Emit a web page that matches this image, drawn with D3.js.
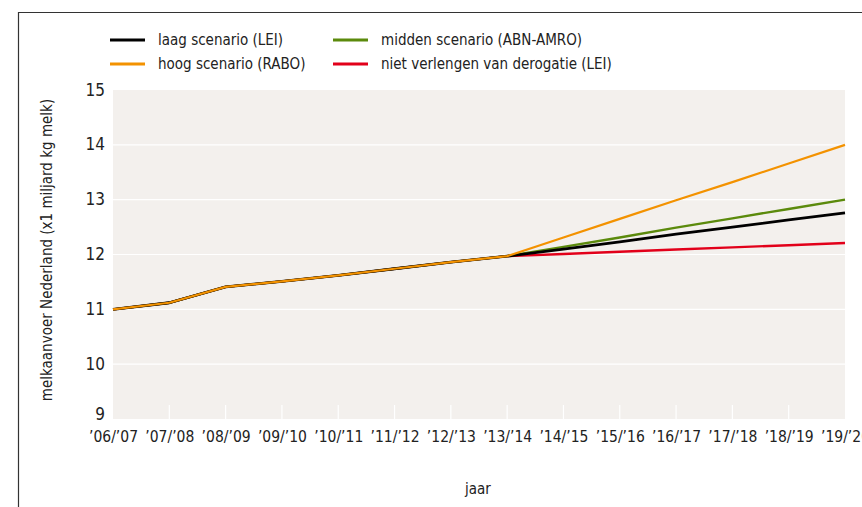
<!DOCTYPE html>
<html>
<head>
<meta charset="utf-8">
<script src="https://cdn.jsdelivr.net/npm/d3@7"></script>
<style>
  body { margin: 0; background: #fff; }
  text { font-family: "Liberation Sans Narrow", "DejaVu Sans Condensed", sans-serif; fill: #222; }
</style>
</head>
<body>
<script>
// seizoenen op de x-as
var seasons = ["’06/’07","’07/’08","’08/’09","’09/’10","’10/’11","’11/’12","’12/’13",
               "’13/’14","’14/’15","’15/’16","’16/’17","’17/’18","’18/’19","’19/’20"];

// gerealiseerd t/m '13/'14, daarna per scenario
var realised  = [11.00, 11.12, 11.41, 11.51, 11.62, 11.74, 11.86, 11.97];
var laag      = [12.10, 12.23, 12.37, 12.50, 12.63, 12.76];
var midden    = [12.14, 12.31, 12.49, 12.66, 12.83, 13.00];
var hoog      = [12.31, 12.65, 12.99, 13.32, 13.66, 14.00];
var derogatie = [12.01, 12.05, 12.09, 12.13, 12.17, 12.21];

var yTicks = [9, 10, 11, 12, 13, 14, 15];

var series = [
  {name: "niet verlengen van derogatie (LEI)", color: "#e2001a", w: 2.4, vals: realised.concat(derogatie)},
  {name: "midden scenario (ABN-AMRO)",         color: "#5b8a0c", w: 2.4, vals: realised.concat(midden)},
  {name: "laag scenario (LEI)",                color: "#000000", w: 2.8, vals: realised.concat(laag)},
  {name: "hoog scenario (RABO)",               color: "#f39200", w: 2.2, vals: realised.concat(hoog)}
];

var W = 862, H = 507;
var plot = {l: 113, r: 845, t: 90, b: 419};

var svg = d3.select("body").append("svg")
    .attr("width", W)
    .attr("height", H);

// kader
svg.append("path")
    .attr("d", "M18.5," + H + " L18.5,12.5 L" + W + ",12.5")
    .attr("fill", "none")
    .attr("stroke", "#333")
    .attr("stroke-width", 1.2);

var x = d3.scalePoint().domain(seasons).range([plot.l, plot.r]);
var y = d3.scaleLinear().domain([9, 15]).range([plot.b, plot.t]);

svg.append("rect")
    .attr("x", plot.l).attr("y", plot.t)
    .attr("width", plot.r - plot.l).attr("height", plot.b - plot.t)
    .attr("fill", "#f3f0ed");

// gridlijnen
svg.append("g").selectAll("line")
  .data(yTicks.filter(function(d) { return d > 9 && d < 15; }))
  .enter().append("line")
    .attr("x1", plot.l).attr("x2", plot.r)
    .attr("y1", function(d) { return y(d); })
    .attr("y2", function(d) { return y(d); })
    .attr("stroke", "#fff")
    .attr("stroke-width", 1.2);

// korte witte streepjes onderaan
svg.append("g").selectAll("line")
  .data(seasons.slice(1, -1))
  .enter().append("line")
    .attr("x1", function(d) { return x(d); })
    .attr("x2", function(d) { return x(d); })
    .attr("y1", plot.b - 14).attr("y2", plot.b)
    .attr("stroke", "#fff")
    .attr("stroke-width", 1.2);

// y-as
var yAxis = svg.append("g")
    .attr("transform", "translate(" + (plot.l - 8) + ",0)")
    .call(d3.axisLeft(y).tickValues(yTicks).tickFormat(d3.format("d")).tickSize(0).tickPadding(0));
yAxis.select(".domain").remove();
yAxis.selectAll("text")
    .attr("dy", function(d) { return d == 9 ? "0.05em" : "0.3em"; })
    .style("font-size", "17px")
    .attr("fill", "#222");

// x-as
var xAxis = svg.append("g")
    .attr("transform", "translate(0," + plot.b + ")")
    .call(d3.axisBottom(x).tickSize(0).tickPadding(0));
xAxis.select(".domain").remove();
xAxis.selectAll("text")
    .attr("y", 23)
    .attr("dy", 0)
    .style("font-size", "15.5px")
    .attr("fill", "#222");

// lijnen
var line = d3.line()
    .x(function(d, i) { return x(seasons[i]); })
    .y(function(d) { return y(d); });

svg.append("g").selectAll("path")
  .data(series)
  .enter().append("path")
    .attr("d", function(d) { return line(d.vals); })
    .attr("fill", "none")
    .attr("stroke", function(d) { return d.color; })
    .attr("stroke-width", function(d) { return d.w; })
    .attr("stroke-linejoin", "round");

// legenda
var legendItems = [
  {name: "laag scenario (LEI)",                color: "#000000", x: 110, y: 40},
  {name: "hoog scenario (RABO)",               color: "#f39200", x: 110, y: 64},
  {name: "midden scenario (ABN-AMRO)",         color: "#5b8a0c", x: 333, y: 40},
  {name: "niet verlengen van derogatie (LEI)", color: "#e2001a", x: 333, y: 64}
];
var legend = svg.append("g").selectAll("g")
  .data(legendItems)
  .enter().append("g")
    .attr("transform", function(d) { return "translate(" + d.x + "," + d.y + ")"; });
legend.append("line")
    .attr("x1", 0).attr("x2", 35)
    .attr("stroke", function(d) { return d.color; })
    .attr("stroke-width", 3);
legend.append("text")
    .attr("x", 48).attr("dy", "0.35em")
    .style("font-size", "15px")
    .text(function(d) { return d.name; });

// astitels
svg.append("text")
    .attr("x", 478).attr("y", 494)
    .attr("text-anchor", "middle")
    .style("font-size", "15px")
    .text("jaar");

svg.append("text")
    .attr("transform", "translate(52,250) rotate(-90)")
    .attr("text-anchor", "middle")
    .style("font-size", "15px")
    .text("melkaanvoer Nederland (x1 miljard kg melk)");
</script>
</body>
</html>
